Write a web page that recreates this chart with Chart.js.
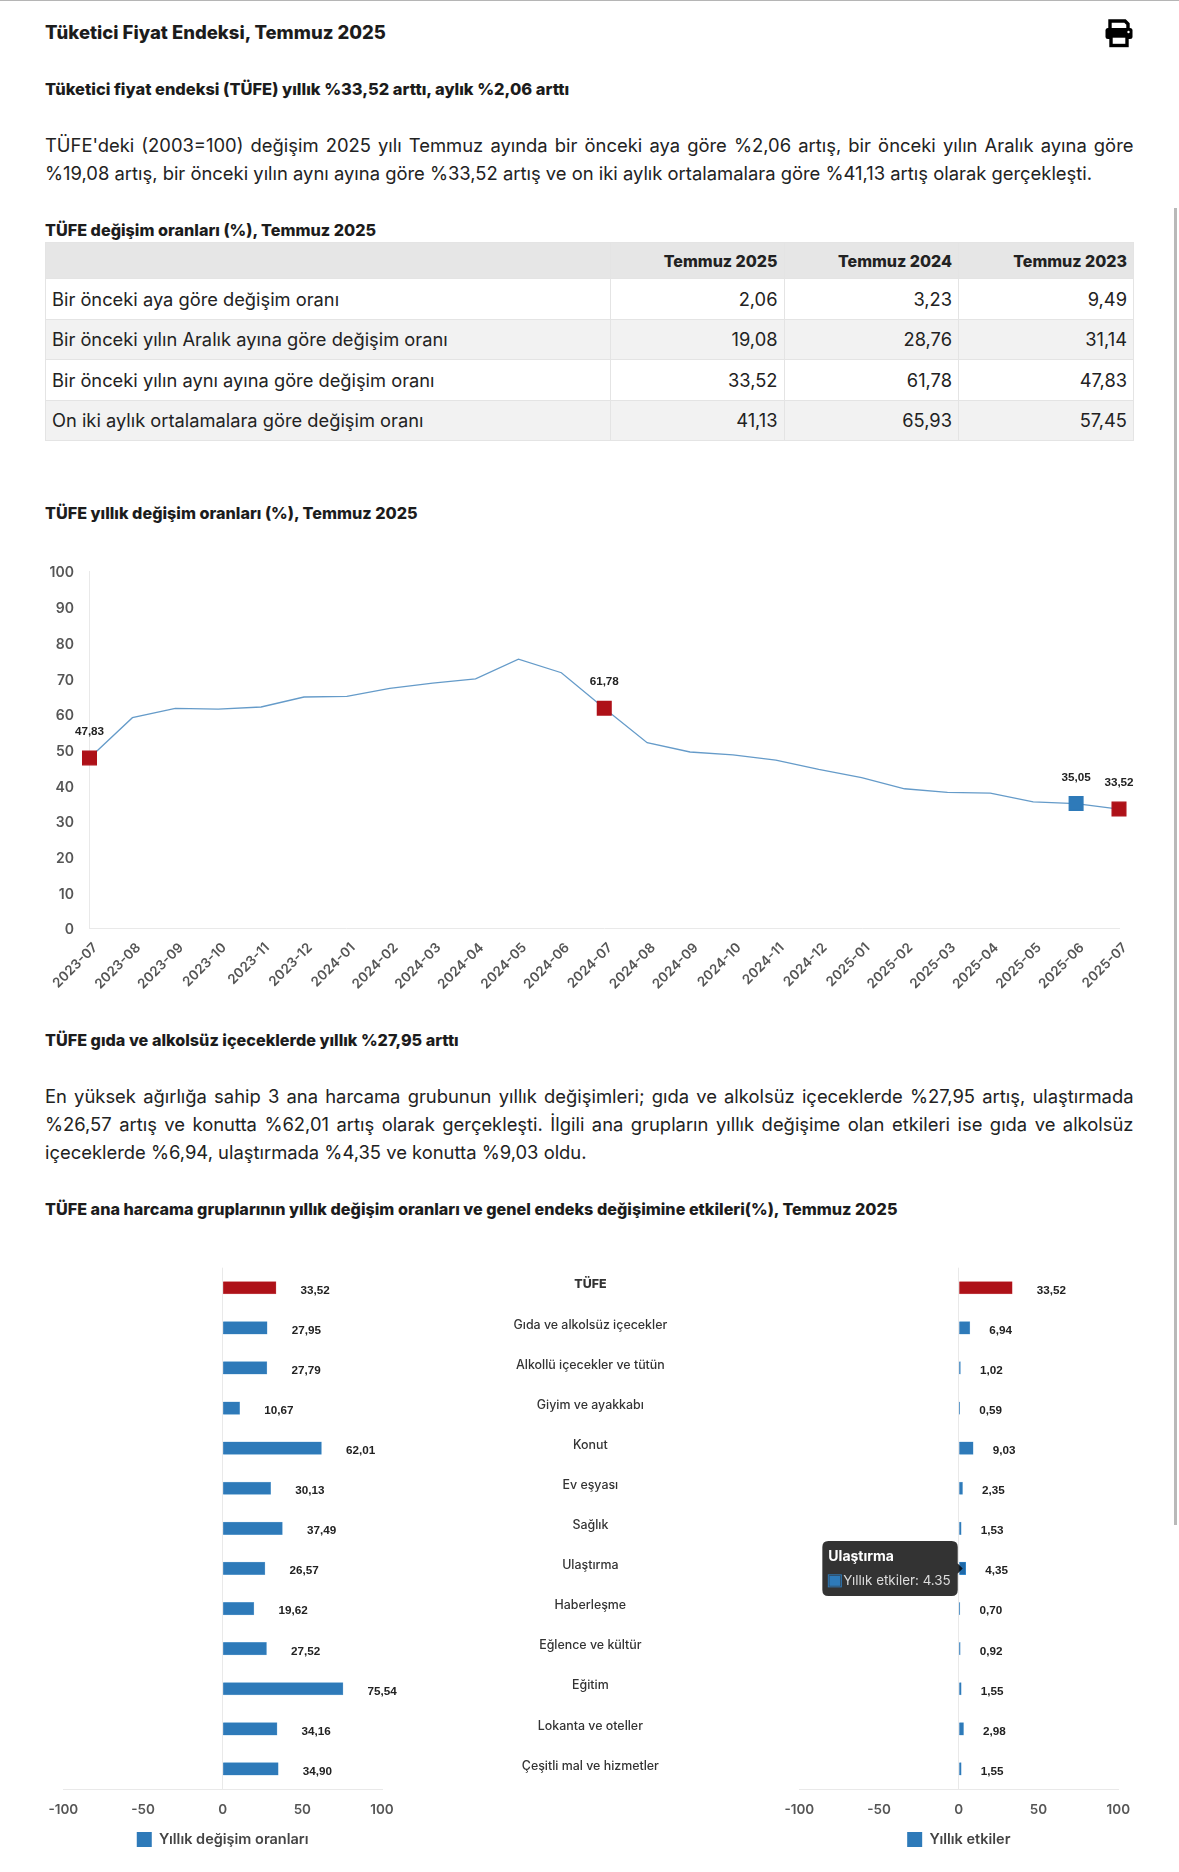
<!DOCTYPE html>
<html lang="tr">
<head>
<meta charset="utf-8">
<title>Tüketici Fiyat Endeksi, Temmuz 2025</title>
<script src="https://cdn.jsdelivr.net/npm/chart.js@4"></script>
<style>
html, body { margin: 0; padding: 0; background: #fff; }
body { position: relative; width: 1179px; height: 1872px; overflow: hidden; font-family: Inter, sans-serif; color: #1c1c1c; }
.topline { position: absolute; left: 0; top: 0; width: 100%; height: 1px; background: #b5b5b5; }
.scrollbar { position: absolute; left: 1174px; top: 208px; width: 3px; height: 1317px; background: #b9b9b9; }
.t { position: absolute; left: 45px; white-space: nowrap; font-weight: 800; line-height: 20px; font-size: 16.2px; }
.p { position: absolute; left: 45px; width: 1088.5px; font-size: 18.4px; line-height: 28px; text-align: justify; color: #222; }
table { position: absolute; left: 45px; top: 242px; width: 1088px; border-collapse: collapse; table-layout: fixed; font-size: 18.3px; color: #222; }
th, td { border: 1px solid #e4e4e4; text-align: right; padding: 0 6px; }
th { height: 35px; background: #e6e6e6; font-size: 16px; font-weight: 800; }
td { height: 39.5px; }
td:first-child { text-align: left; }
tr:nth-child(odd) td { background: #f2f2f2; }
canvas { position: absolute; }
svg { position: absolute; left: 1104px; top: 18px; }
</style>
</head>
<body>
<div class="topline"></div>
<div class="scrollbar"></div>

<div class="t" style="top:22px;font-size:18.5px">Tüketici Fiyat Endeksi, Temmuz 2025</div>
<svg width="30" height="30" viewBox="0 0 30 30">
  <path d="M6 12V3h15l3 3v6" fill="none" stroke="#000" stroke-width="3.4"/>
  <rect x="1.5" y="10" width="27" height="11" rx="2.5" fill="#000"/>
  <rect x="7" y="18" width="16" height="9.5" fill="#fff" stroke="#000" stroke-width="3.4"/>
  <circle cx="24.5" cy="14" r="1.2" fill="#fff"/>
</svg>
<div class="t" style="top:78.5px;font-size:16.45px">Tüketici fiyat endeksi (TÜFE) yıllık %33,52 arttı, aylık %2,06 arttı</div>
<div class="p" style="top:130.5px">TÜFE'deki (2003=100) değişim 2025 yılı Temmuz ayında bir önceki aya göre %2,06 artış, bir önceki yılın Aralık ayına göre %19,08 artış, bir önceki yılın aynı ayına göre %33,52 artış ve on iki aylık ortalamalara göre %41,13 artış olarak gerçekleşti.</div>
<div class="t" style="top:220px">TÜFE değişim oranları (%), Temmuz 2025</div>
<table id="rates"></table>
<div class="t" style="top:503px">TÜFE yıllık değişim oranları (%), Temmuz 2025</div>
<canvas id="lineChart" style="left:40px;top:560px" width="1100" height="445"></canvas>
<div class="t" style="top:1030px">TÜFE gıda ve alkolsüz içeceklerde yıllık %27,95 arttı</div>
<div class="p" style="top:1082px">En yüksek ağırlığa sahip 3 ana harcama grubunun yıllık değişimleri; gıda ve alkolsüz içeceklerde %27,95 artış, ulaştırmada %26,57 artış ve konutta %62,01 artış olarak gerçekleşti. İlgili ana grupların yıllık değişime olan etkileri ise gıda ve alkolsüz içeceklerde %6,94, ulaştırmada %4,35 ve konutta %9,03 oldu.</div>
<div class="t" style="top:1199px">TÜFE ana harcama gruplarının yıllık değişim oranları ve genel endeks değişimine etkileri(%), Temmuz 2025</div>
<canvas id="changeChart" style="left:40px;top:1255px" width="680" height="617"></canvas>
<canvas id="effectChart" style="left:750px;top:1255px" width="429" height="617"></canvas>

<script>
const tableHead = ['', 'Temmuz 2025', 'Temmuz 2024', 'Temmuz 2023'];
const tableRows = [
    ['Bir önceki aya göre değişim oranı', '2,06', '3,23', '9,49'],
    ['Bir önceki yılın Aralık ayına göre değişim oranı', '19,08', '28,76', '31,14'],
    ['Bir önceki yılın aynı ayına göre değişim oranı', '33,52', '61,78', '47,83'],
    ['On iki aylık ortalamalara göre değişim oranı', '41,13', '65,93', '57,45']
];

const months = ['2023-07', '2023-08', '2023-09', '2023-10', '2023-11', '2023-12', '2024-01', '2024-02', '2024-03', '2024-04', '2024-05', '2024-06', '2024-07', '2024-08', '2024-09', '2024-10', '2024-11', '2024-12', '2025-01', '2025-02', '2025-03', '2025-04', '2025-05', '2025-06', '2025-07'];
const yearlyRates = [47.83, 59.1, 61.7, 61.5, 62.1, 64.9, 65.1, 67.3, 68.8, 70.0, 75.5, 71.7, 61.78, 52.1, 49.5, 48.7, 47.2, 44.6, 42.3, 39.2, 38.2, 38.0, 35.5, 35.05, 33.52];
const redMonths = ['2023-07', '2024-07', '2025-07'];
const blueMonths = ['2025-06'];

const groups = ['TÜFE', 'Gıda ve alkolsüz içecekler', 'Alkollü içecekler ve tütün', 'Giyim ve ayakkabı', 'Konut', 'Ev eşyası', 'Sağlık', 'Ulaştırma', 'Haberleşme', 'Eğlence ve kültür', 'Eğitim', 'Lokanta ve oteller', 'Çeşitli mal ve hizmetler'];
const changeRates = [33.52, 27.95, 27.79, 10.67, 62.01, 30.13, 37.49, 26.57, 19.62, 27.52, 75.54, 34.16, 34.90];
const effects = [33.52, 6.94, 1.02, 0.59, 9.03, 2.35, 1.53, 4.35, 0.70, 0.92, 1.55, 2.98, 1.55];

const RED = '#ae1118';
const BLUE = '#2e7ab9';
const LIGHT_LINE = '#e9e9e9';

// table at the top
document.getElementById('rates').innerHTML =
    '<colgroup><col style="width:565px"><col style="width:173.5px"><col style="width:174.5px"><col style="width:175px"></colgroup>' +
    '<tr>' + tableHead.map(h => `<th>${h}</th>`).join('') + '</tr>' +
    tableRows.map(r => '<tr>' + r.map(c => `<td>${c}</td>`).join('') + '</tr>').join('');

function comma(v) {
    return v.toFixed(2).replace('.', ',');
}

// value labels next to the bars
const barLabels = {
    id: 'barLabels',
    afterDatasetsDraw(chart) {
        const { ctx } = chart;
        ctx.save();
        ctx.font = 'bold 11.7px "Liberation Sans"';
        ctx.fillStyle = '#222';
        ctx.textAlign = 'left';
        ctx.textBaseline = 'middle';
        chart.getDatasetMeta(0).data.forEach((bar, i) => {
            const v = chart.data.datasets[0].data[i];
            ctx.fillText(comma(v), bar.x + (v >= 10 ? 24.5 : 19.5), bar.y + 2.7);
        });
        ctx.restore();
    }
};

// labels above the highlighted months
const pointLabels = {
    id: 'pointLabels',
    afterDatasetsDraw(chart) {
        const { ctx } = chart;
        ctx.save();
        ctx.font = 'bold 11.7px "Liberation Sans"';
        ctx.fillStyle = '#222';
        ctx.textAlign = 'center';
        ctx.textBaseline = 'middle';
        chart.getDatasetMeta(0).data.forEach((pt, i) => {
            if (redMonths.includes(months[i]) || blueMonths.includes(months[i])) {
                ctx.fillText(comma(yearlyRates[i]), pt.x, pt.y - 26);
            }
        });
        ctx.restore();
    }
};

function pointColor(ctx) {
    const m = months[ctx.dataIndex];
    if (redMonths.includes(m)) return RED;
    if (blueMonths.includes(m)) return BLUE;
    return 'transparent';
}

function noMargins(scale) {
    scale.paddingLeft = 0;
    scale.paddingRight = 0;
    scale.paddingTop = 0;
    scale.paddingBottom = 0;
}

new Chart(document.getElementById('lineChart'), {
    type: 'line',
    data: {
        labels: months,
        datasets: [{
            data: yearlyRates,
            borderColor: '#659bc9',
            borderWidth: 1.3,
            tension: 0,
            pointStyle: 'rect',
            pointBackgroundColor: pointColor,
            pointBorderColor: pointColor,
            pointRadius: ctx => pointColor(ctx) === 'transparent' ? 0 : 9.7,
            clip: false
        }]
    },
    options: {
        responsive: false,
        animation: false,
        layout: { padding: { left: 0, right: 21, top: 11.7, bottom: 0 } },
        plugins: { legend: { display: false }, tooltip: { enabled: false } },
        scales: {
            x: {
                grid: { display: false },
                border: { color: LIGHT_LINE },
                ticks: {
                    autoSkip: false,
                    minRotation: 45,
                    maxRotation: 45,
                    color: '#555',
                    font: { family: 'Inter', size: 13.5, weight: 600 },
                    padding: 3,
                    labelOffset: 6
                },
                afterFit(scale) {
                    noMargins(scale);
                    scale.height = 76.3;
                }
            },
            y: {
                min: 0,
                max: 100,
                grid: { display: false },
                border: { color: LIGHT_LINE },
                ticks: {
                    stepSize: 10,
                    color: '#555',
                    padding: 7.5,
                    labelOffset: 1.5,
                    font: { family: 'Inter', size: 14, weight: 600 }
                },
                afterFit(scale) {
                    noMargins(scale);
                    scale.width = 49.5;
                }
            }
        }
    },
    plugins: [pointLabels]
});

function barOptions() {
    return {
        responsive: false,
        animation: false,
        indexAxis: 'y',
        plugins: {
            legend: {
                position: 'bottom',
                fullSize: false,
                labels: {
                    boxWidth: 15,
                    boxHeight: 15,
                    padding: 8,
                    font: { family: 'Inter', size: 14.5, weight: 600 },
                    generateLabels: chart => [{
                        text: chart.data.datasets[0].label,
                        fillStyle: BLUE,
                        strokeStyle: BLUE,
                        lineWidth: 0,
                        fontColor: '#444',
                        hidden: false,
                        datasetIndex: 0
                    }]
                }
            },
            tooltip: {
                xAlign: 'right',
                yAlign: 'center',
                backgroundColor: 'rgba(0,0,0,0.8)',
                padding: { left: 6, right: 7, top: 7, bottom: 7 },
                caretPadding: 3,
                boxWidth: 13,
                boxHeight: 12,
                multiKeyBackground: 'transparent',
                titleFont: { family: 'Inter', size: 14, weight: 700 },
                titleMarginBottom: 8,
                bodyFont: { family: 'Inter', size: 13.4 },
                bodyColor: '#ddd',
                callbacks: {
                    labelColor: () => ({ backgroundColor: BLUE, borderColor: BLUE })
                }
            }
        },
        scales: {
            x: {
                min: -100,
                max: 100,
                grid: {
                    drawTicks: false,
                    color: ctx => ctx.tick.value === 0 ? LIGHT_LINE : 'transparent'
                },
                border: { color: LIGHT_LINE },
                ticks: {
                    stepSize: 50,
                    color: '#555',
                    padding: 13,
                    font: { family: 'Inter', size: 13.5, weight: 600 }
                },
                afterFit(scale) {
                    noMargins(scale);
                    scale.height = 35;
                }
            }
        }
    };
}

function barDataset(label, values) {
    return {
        label: label,
        data: values,
        barThickness: 12.5,
        backgroundColor: values.map((v, i) => i === 0 ? RED : BLUE),
        hoverBackgroundColor: values.map((v, i) => i === 0 ? RED : '#1f69a8'),
        borderColor: values.map((v, i) => i === 0 ? '#d8787c' : '#7fb2da'),
        borderWidth: 0.5
    };
}

// left chart carries the group names on its own y axis
const changeOptions = barOptions();
changeOptions.layout = { padding: { left: 23.3, right: 0, top: 12.7, bottom: 15 } };
changeOptions.plugins.tooltip.enabled = false;
changeOptions.scales.y = {
    position: 'right',
    grid: { display: false },
    border: { display: false },
    ticks: {
        padding: 123.5,
        labelOffset: -3,
        crossAlign: 'center',
        color: '#333',
        font: ctx => ({ family: 'Inter', size: 12.4, weight: ctx.index === 0 ? 800 : 500 })
    },
    afterFit(scale) {
        noMargins(scale);
        scale.width = 680 - 342;
    }
};

new Chart(document.getElementById('changeChart'), {
    type: 'bar',
    data: { labels: groups, datasets: [barDataset('Yıllık değişim oranları', changeRates)] },
    options: changeOptions,
    plugins: [barLabels]
});

const effectOptions = barOptions();
effectOptions.layout = { padding: { left: 49.3, right: 60.7, top: 12.7, bottom: 15 } };
effectOptions.scales.y = { display: false };

const effectChart = new Chart(document.getElementById('effectChart'), {
    type: 'bar',
    data: { labels: groups, datasets: [barDataset('Yıllık etkiler', effects)] },
    options: effectOptions,
    plugins: [barLabels]
});

// the reference was captured while hovering the Ulaştırma bar
const hovered = [{ datasetIndex: 0, index: groups.indexOf('Ulaştırma') }];
effectChart.setActiveElements(hovered);
effectChart.tooltip.setActiveElements(hovered, { x: 0, y: 0 });
effectChart.update();
</script>
</body>
</html>
